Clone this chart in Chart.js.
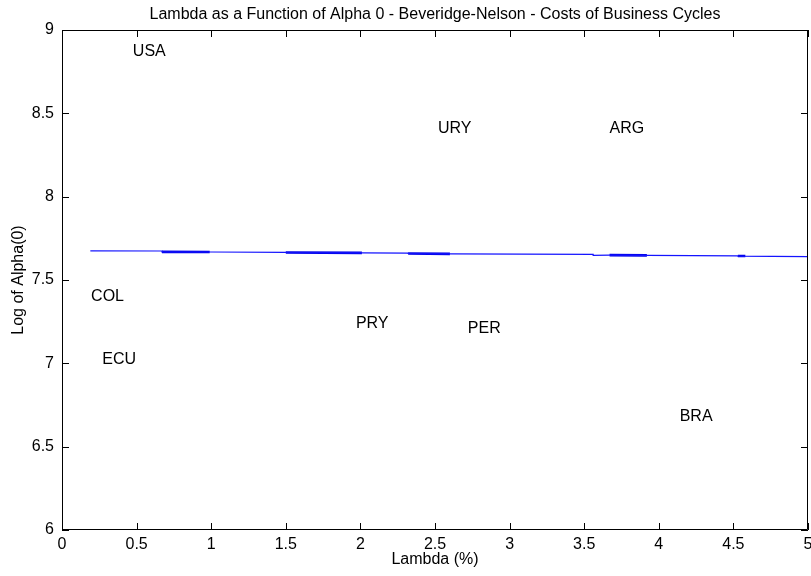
<!DOCTYPE html>
<html>
<head>
<meta charset="utf-8">
<script src="https://cdn.jsdelivr.net/npm/chart.js@4/dist/chart.umd.min.js"></script>
<style>
html,body{margin:0;padding:0;background:#fff;}
#wrap{width:811px;height:576px;position:relative;}
</style>
</head>
<body>
<div id="wrap"><canvas id="c" width="811" height="576"></canvas></div>
<script>
// ---- data ----
const chartTitle = "Lambda as a Function of Alpha 0 - Beveridge-Nelson - Costs of Business Cycles";
const xTitle = "Lambda (%)";
const yTitle = "Log of Alpha(0)";

const lineLambda = [0.19, 0.67, 0.67, 0.99, 1.50, 1.50, 2.01, 2.32, 2.32, 2.60, 3.56, 3.56, 3.67, 3.92, 4.53, 4.53, 5.00];
const lineAlpha  = [7.675, 7.674, 7.669, 7.668, 7.666, 7.665, 7.663, 7.661, 7.659, 7.657, 7.654, 7.648, 7.649, 7.648, 7.645, 7.643, 7.640];

const thickLambda = [0.67, 0.99, null, 1.50, 2.01, null, 2.32, 2.60, null, 3.67, 3.92, null, 4.53, 4.58];
const thickAlpha  = [7.669, 7.668, null, 7.665, 7.663, null, 7.659, 7.657, null, 7.649, 7.648, null, 7.644, 7.644];

const countries   = ["USA", "URY", "ARG", "COL", "ECU", "PRY", "PER", "BRA"];
const labelLambda = [0.475, 2.52, 3.67, 0.195, 0.27, 1.97, 2.72, 4.14];
const labelAlpha  = [8.87, 8.41, 8.41, 7.40, 7.02, 7.24, 7.21, 6.68];

const xTicks = [0, 0.5, 1, 1.5, 2, 2.5, 3, 3.5, 4, 4.5, 5];
const yTicks = [6, 6.5, 7, 7.5, 8, 8.5, 9];

// ---- build ----
const FONT = "Liberation Sans, Arial, sans-serif";
const mainPts = lineLambda.map((x, i) => ({x: x, y: lineAlpha[i]}));
const thickPts = thickLambda.map((x, i) => (x === null ? {x: null, y: null} : {x: x, y: thickAlpha[i]}));

const deco = {
  id: 'deco',
  afterDraw(chart) {
    const ctx = chart.ctx;
    const xs = chart.scales.x, ys = chart.scales.y;
    const a = chart.chartArea;
    ctx.save();
    ctx.strokeStyle = '#000';
    ctx.lineWidth = 1;
    ctx.beginPath();
    ctx.rect(Math.round(a.left) + 0.5, Math.round(a.top) + 0.5, Math.round(a.right - a.left) - 1, Math.round(a.bottom - a.top) - 1);
    ctx.stroke();
    const tl = 7;
    ctx.beginPath();
    xTicks.forEach(v => {
      const px = Math.round(xs.getPixelForValue(v)) + 0.5;
      ctx.moveTo(px, a.bottom); ctx.lineTo(px, a.bottom - tl);
      ctx.moveTo(px, a.top); ctx.lineTo(px, a.top + tl);
    });
    yTicks.forEach(v => {
      const py = Math.round(ys.getPixelForValue(v)) + 0.5;
      ctx.moveTo(a.left, py); ctx.lineTo(a.left + tl, py);
      ctx.moveTo(a.right, py); ctx.lineTo(a.right - tl, py);
    });
    ctx.stroke();
    ctx.fillStyle = '#000';
    ctx.font = "16px " + FONT;
    ctx.textAlign = 'left';
    ctx.textBaseline = 'middle';
    countries.forEach((c, i) => {
      ctx.fillText(c, xs.getPixelForValue(labelLambda[i]), ys.getPixelForValue(labelAlpha[i]));
    });
    ctx.textAlign = 'center';
    ctx.font = "16px " + FONT;
    ctx.fillText(chartTitle, (a.left + a.right) / 2, 15);
    ctx.fillText(xTitle, (a.left + a.right) / 2, 560);
    ctx.translate(19, (a.top + a.bottom) / 2);
    ctx.rotate(-Math.PI / 2);
    ctx.fillText(yTitle, 0, 0);
    ctx.restore();
  }
};

new Chart(document.getElementById('c'), {
  type: 'line',
  data: {
    datasets: [
      {data: mainPts, borderColor: 'rgb(20,20,255)', borderWidth: 1.2, pointRadius: 0, fill: false, tension: 0},
      {data: thickPts, borderColor: 'rgb(0,0,230)', borderWidth: 2.6, pointRadius: 0, fill: false, tension: 0, spanGaps: false}
    ]
  },
  options: {
    responsive: false,
    animation: false,
    events: [],
    layout: {padding: {top: 30, left: 0, right: 3, bottom: 0}},
    plugins: {legend: {display: false}, tooltip: {enabled: false}, title: {display: false}},
    scales: {
      x: {
        type: 'linear', min: 0, max: 5,
        afterBuildTicks(s) { s.ticks = xTicks.map(v => ({value: v})); },
        afterFit(s) { s.height = 46; s.paddingLeft = 0; s.paddingRight = 0; },
        grid: {display: false, drawTicks: false},
        border: {display: false},
        ticks: {color: '#000', font: {family: FONT, size: 16}, padding: 5, maxRotation: 0, autoSkip: false,
                callback: v => String(v)}
      },
      y: {
        type: 'linear', min: 6, max: 9,
        afterBuildTicks(s) { s.ticks = yTicks.map(v => ({value: v})); },
        afterFit(s) { s.width = 62; s.paddingTop = 0; s.paddingBottom = 0; },
        grid: {display: false, drawTicks: false},
        border: {display: false},
        ticks: {color: '#000', font: {family: FONT, size: 16}, padding: 8, autoSkip: false,
                callback: v => String(v)}
      }
    }
  },
  plugins: [deco]
});
</script>
</body>
</html>
